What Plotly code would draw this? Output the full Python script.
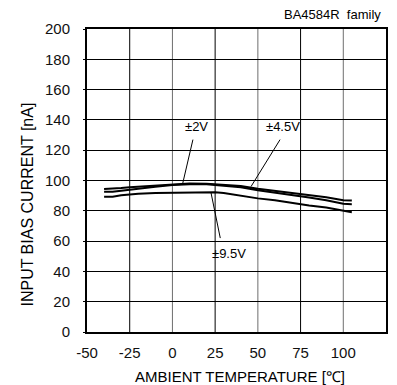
import plotly.graph_objects as go

temps = [-40, -35, -30, -25, -20, -10, 0, 10, 20, 25, 30, 40, 50, 60, 70, 75, 80, 90, 100, 105]
i_4p5v = [94.4, 94.6, 95.0, 95.5, 95.8, 96.6, 97.4, 98.0, 97.8, 97.4, 97.0, 96.3, 94.6, 93.2, 92.2, 91.5, 90.6, 89.0, 87.0, 86.8]
i_2v = [92.6, 92.6, 93.3, 94.0, 94.6, 95.8, 97.0, 97.6, 97.5, 97.0, 96.6, 95.6, 93.5, 92.0, 90.6, 89.8, 88.8, 87.0, 84.6, 84.4]
i_9p5v = [89.3, 89.3, 90.2, 90.8, 91.2, 91.8, 92.0, 92.2, 92.2, 92.2, 91.8, 90.0, 88.2, 87.0, 85.2, 84.3, 83.5, 82.2, 80.3, 79.0]

labels = ["±2V", "±4.5V", "±9.5V"]
label_pos = [(14, 135.5), (65, 135.5), (33, 52)]
pointer_from = [(12, 127), (63, 127), (28, 62)]
pointer_to = [(6, 98), (46, 96), (22.5, 92.4)]

x_ticks = [-50, -25, 0, 25, 50, 75, 100, 125]
x_grid_dark = [-25, 25, 75]
x_grid_light = [0, 50, 100]
y_ticks = list(range(0, 201, 20))

FONT = "Liberation Sans, Arial, sans-serif"

fig = go.Figure()
for ys in (i_4p5v, i_2v, i_9p5v):
    fig.add_trace(go.Scatter(x=temps, y=ys, mode="lines",
                             line=dict(color="black", width=2), showlegend=False))

for xv in x_grid_dark:
    fig.add_shape(type="line", x0=xv, x1=xv, y0=0, y1=1, xref="x", yref="paper",
                  line=dict(color="black", width=1), layer="below")
for xv in x_grid_light:
    fig.add_shape(type="line", x0=xv, x1=xv, y0=0, y1=1, xref="x", yref="paper",
                  line=dict(color="#6e6e6e", width=1), layer="below")

for (x0, y0), (x1, y1) in zip(pointer_from, pointer_to):
    fig.add_shape(type="line", x0=x0, y0=y0, x1=x1, y1=y1, xref="x", yref="y",
                  line=dict(color="black", width=1))

for txt, (x, y) in zip(labels, label_pos):
    fig.add_annotation(x=x, y=y, text=txt, showarrow=False, xref="x", yref="y",
                       font=dict(size=13, color="black", family=FONT))

fig.add_annotation(x=0.99, y=1.0495, xref="paper", yref="paper", text="BA4584R  family",
                   showarrow=False, xanchor="right", yanchor="middle",
                   font=dict(size=13, color="black", family=FONT))
fig.add_annotation(x=0.512, y=-0.1485, xref="paper", yref="paper",
                   text="AMBIENT TEMPERATURE [℃]", showarrow=False,
                   xanchor="center", yanchor="middle",
                   font=dict(size=15, color="black", family=FONT))
fig.add_annotation(x=-0.198, y=84, xref="paper", yref="y",
                   text="INPUT BIAS CURRENT [nA]", showarrow=False, textangle=-90,
                   xanchor="center", yanchor="middle",
                   font=dict(size=16, color="black", family=FONT))

fig.update_layout(
    width=389, height=377,
    margin=dict(l=79, r=9, t=21, b=53),
    paper_bgcolor="white", plot_bgcolor="white",
    font=dict(family=FONT, size=15, color="black"),
    showlegend=False,
)
fig.update_xaxes(range=[-50, 125], tickvals=x_ticks, ticktext=[str(v) for v in x_ticks],
                 showgrid=False,
                 showline=True, linecolor="black", linewidth=2, mirror=True,
                 ticks="", zeroline=False, tickfont=dict(size=15, color="#111"),
                 ticklabelstandoff=6)
fig.update_yaxes(range=[0, 200], tickvals=y_ticks, ticktext=[str(v) for v in y_ticks],
                 showgrid=True, gridcolor="black", gridwidth=1,
                 showline=True, linecolor="black", linewidth=2, mirror=True,
                 ticks="outside", ticklen=2, tickcolor="black", zeroline=False,
                 tickfont=dict(size=15, color="#111"), ticklabelstandoff=10)

fig.write_html("out.html")
